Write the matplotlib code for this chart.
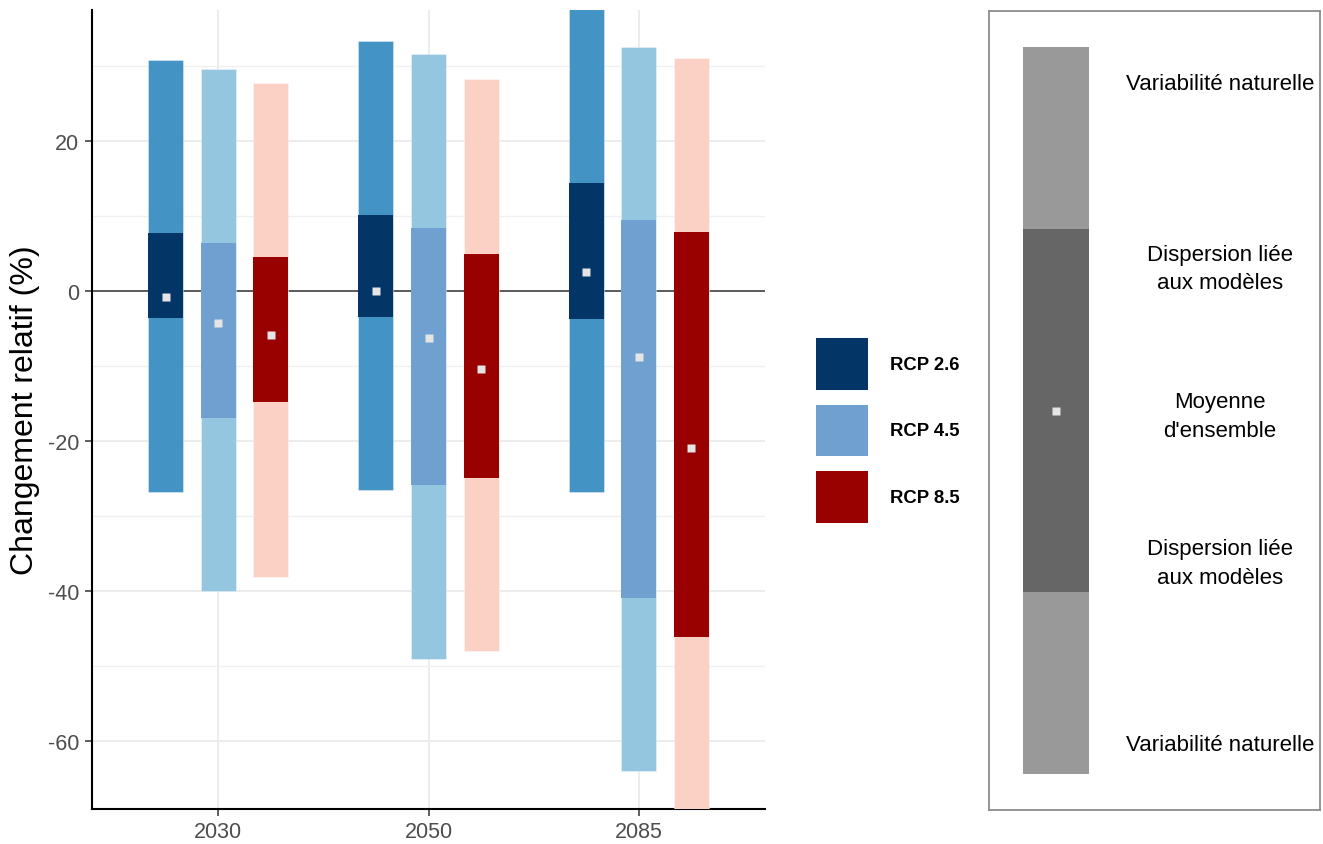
import numpy as np
import matplotlib
matplotlib.use("Agg")
import matplotlib.pyplot as plt
from matplotlib.patches import Patch

plt.rcParams['font.family'] = ['Liberation Sans', 'DejaVu Sans']
plt.rcParams['axes.unicode_minus'] = False

## data
years = ['2030', '2050', '2085']
scenarios = ['RCP 2.6', 'RCP 4.5', 'RCP 8.5']

# natural variability range (outer bar)
rcp26_nat_low = [-26.8, -26.6, -26.8]
rcp26_nat_high = [30.8, 33.4, 40.0]
rcp45_nat_low = [-40.0, -49.1, -64.0]
rcp45_nat_high = [29.6, 31.6, 32.6]
rcp85_nat_low = [-38.1, -48.0, -75.0]
rcp85_nat_high = [27.7, 28.3, 31.1]

# model dispersion range (inner bar)
rcp26_mod_low = [-3.6, -3.5, -3.7]
rcp26_mod_high = [7.7, 10.2, 14.4]
rcp45_mod_low = [-16.9, -25.9, -40.9]
rcp45_mod_high = [6.4, 8.4, 9.5]
rcp85_mod_low = [-14.8, -24.9, -46.1]
rcp85_mod_high = [4.5, 4.9, 7.9]

# ensemble mean
rcp26_mean = [-0.8, 0.0, 2.6]
rcp45_mean = [-4.3, -6.2, -8.8]
rcp85_mean = [-5.8, -10.4, -20.9]

# schematic key on the right (in "spread" units)
key_edges = [-2, -1, 1, 2]
key_mean = 0
key_labels = ['Variabilité naturelle', 'Dispersion liée\naux modèles', 'Moyenne\nd\'ensemble',
              'Dispersion liée\naux modèles', 'Variabilité naturelle']

'''colours'''
inner_cols = ['#033567', '#70A0CF', '#990000']
outer_cols = ['#4393C4', '#94C6DF', '#FBD0C5']
mean_col = '#E5E5E5'

series = [
    (rcp26_nat_low, rcp26_nat_high, rcp26_mod_low, rcp26_mod_high, rcp26_mean),
    (rcp45_nat_low, rcp45_nat_high, rcp45_mod_low, rcp45_mod_high, rcp45_mean),
    (rcp85_nat_low, rcp85_nat_high, rcp85_mod_low, rcp85_mod_high, rcp85_mean),
]

W, H = 1323, 845
fig = plt.figure(figsize=(W / 100, H / 100), dpi=100)

ax = fig.add_axes([92 / W, (H - 810) / H, (765 - 92) / W, (810 - 11) / H])
x = np.arange(len(years))
offsets = [-0.25, 0.0, 0.25]
bw = 0.167

for i, (nl, nh, ml, mh, mn) in enumerate(series):
    nl, nh, ml, mh, mn = map(np.array, (nl, nh, ml, mh, mn))
    xp = x + offsets[i]
    ax.bar(xp, nh - nl, bottom=nl, width=bw, color=outer_cols[i], zorder=3,
           edgecolor=(1, 1, 1, 0.5), linewidth=0.5)
    ax.bar(xp, mh - ml, bottom=ml, width=bw, color=inner_cols[i], zorder=4,
           linewidth=0)
    ax.plot(xp, mn, 's', color=mean_col, ms=6, mec='none', zorder=5)

ax.axhline(0, color='#333333', lw=1.1, zorder=2)

ax.set_xlim(-0.6, 2.6)
ax.set_ylim(-69.07, 37.47)
ax.set_xticks(x)
ax.set_xticklabels(years)
ax.set_yticks([-60, -40, -20, 0, 20])
ax.set_yticks([-50, -30, -10, 10, 30], minor=True)
ax.grid(True, which='major', color='#EBEBEB', lw=1.3, zorder=0)
ax.grid(True, which='minor', axis='y', color='#F0F0F0', lw=1.0, zorder=0)
ax.set_axisbelow(True)
for s in ['top', 'right']:
    ax.spines[s].set_visible(False)
for s in ['left', 'bottom']:
    ax.spines[s].set_linewidth(1.5)
    ax.spines[s].set_color('black')
ax.tick_params(axis='both', which='major', length=5, width=1.1, color='#333333',
               labelsize=15.5, labelcolor='#4D4D4D', pad=4)
ax.tick_params(axis='both', which='minor', length=0)
ax.set_ylabel('Changement relatif (%)', fontsize=23, labelpad=6)

'''legend'''
handles = [Patch(facecolor=c, edgecolor='none') for c in inner_cols]
fig.legend(handles, scenarios, loc='center left', bbox_to_anchor=(816 / W, 1 - 431.5 / H),
           frameon=False, prop={'weight': 'bold', 'size': 13.3},
           handlelength=2.8, handleheight=3.95, labelspacing=0.81, handletextpad=1.2,
           borderpad=0, borderaxespad=0)

'''key panel'''
ax2 = fig.add_axes([989 / W, (H - 811) / H, (1320 - 989) / W, (811 - 12) / H])
ax2.set_xlim(0, 1)
ax2.set_ylim(-2.2, 2.2)
ax2.set_xticks([])
ax2.set_yticks([])
for s in ax2.spines.values():
    s.set_color('#8C8C8C')
    s.set_linewidth(1.3)
key_cols = ['#999999', '#666666', '#999999']
for j in range(3):
    ax2.bar(0.2024, key_edges[j + 1] - key_edges[j], bottom=key_edges[j], width=0.201,
            color=key_cols[j], zorder=2)
ax2.plot([0.2024], [key_mean], 's', color=mean_col, ms=6, mec='none', zorder=3)
label_y = [1.80, 0.78, -0.03, -0.84, -1.84]
for ly, lt in zip(label_y, key_labels):
    ax2.text(0.698, ly, lt, ha='center', va='center', fontsize=16, linespacing=1.45)

fig.savefig('out.png', dpi=100)
